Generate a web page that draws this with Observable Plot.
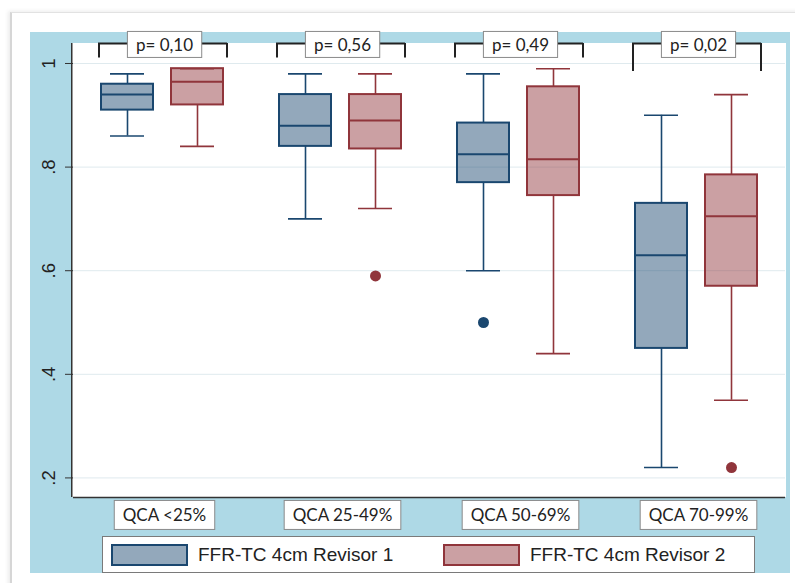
<!DOCTYPE html>
<html>
<head>
<meta charset="utf-8">
<script src="https://cdn.jsdelivr.net/npm/d3@7"></script>
<script src="https://cdn.jsdelivr.net/npm/@observablehq/plot@0.6"></script>
<style>
  html, body { margin: 0; padding: 0; background: #fff; width: 795px; height: 583px; overflow: hidden; }
  #frame { position: absolute; left: 10px; top: 12px; width: 800px; height: 600px;
           border-left: 2px solid #d6d6d6; border-top: 1px solid #e2e2e2;
           box-shadow: -2px -1px 4px rgba(0,0,0,0.08); }
  #panel { position: absolute; left: 30px; top: 32px; width: 760px; height: 541px; background: #aed9e6; }
  #plotbg { position: absolute; left: 41px; top: 11px; width: 715px; height: 454px; background: #fff; }
  #panel svg { position: absolute; left: 0; top: 0; overflow: visible; }
  #legend { position: absolute; left: 102px; top: 536px; width: 653px; height: 37px; box-sizing: border-box;
            background: #fff; border: 1px solid #7a7a7a; font-family: "Liberation Sans", Arial, sans-serif;
            font-size: 19px; color: #222; }
  .item { position: absolute; top: 0; height: 35px; display: flex; align-items: center; }
  .sw { width: 73px; height: 18px; border: 2px solid; margin-right: 10px; }
</style>
</head>
<body>
<div id="frame"></div>
<div id="panel"><div id="plotbg"></div></div>
<div id="legend"></div>
<script>
// ---- data ----
const groups = ["QCA <25%", "QCA 25-49%", "QCA 50-69%", "QCA 70-99%"];
const series = ["FFR-TC 4cm Revisor 1", "FFR-TC 4cm Revisor 2"];

// Revisor 1 box statistics (lower adjacent, q1, median, q3, upper adjacent)
const r1Low  = [0.86, 0.70, 0.60, 0.22];
const r1Q1   = [0.91, 0.84, 0.77, 0.45];
const r1Med  = [0.94, 0.88, 0.825, 0.63];
const r1Q3   = [0.96, 0.94, 0.885, 0.73];
const r1High = [0.98, 0.98, 0.98, 0.90];
// Revisor 2
const r2Low  = [0.84, 0.72, 0.44, 0.35];
const r2Q1   = [0.92, 0.835, 0.745, 0.57];
const r2Med  = [0.965, 0.89, 0.815, 0.705];
const r2Q3   = [0.99, 0.94, 0.955, 0.785];
const r2High = [0.99, 0.98, 0.99, 0.94];

// outliers
const outGroup  = ["QCA 50-69%", "QCA 25-49%", "QCA 70-99%"];
const outSeries = [series[0], series[1], series[1]];
const outValue  = [0.50, 0.59, 0.22];

const pLabels = ["p= 0,10", "p= 0,56", "p= 0,49", "p= 0,02"];
const yTicks = [0.2, 0.4, 0.6, 0.8, 1];
const yTickLabels = ["", ".2", ".4", ".6", ".8", "1"];

// ---- build tables ----
const rows = [];
groups.forEach((g, i) => {
  rows.push({group: g, series: series[0], low: r1Low[i], q1: r1Q1[i], med: r1Med[i], q3: r1Q3[i], high: r1High[i]});
  rows.push({group: g, series: series[1], low: r2Low[i], q1: r2Q1[i], med: r2Med[i], q3: r2Q3[i], high: r2High[i]});
});
const outliers = outValue.map((v, i) => ({group: outGroup[i], series: outSeries[i], value: v}));

// annotation layout (bracket leg ends, in y units)
const yMin = 0.1622, yMax = 1.0386;
const legEnd = [1.0106, 1.0106, 1.0106, 0.9846];
const pRows = groups.map((g, i) => ({group: g, p: pLabels[i], drop: legEnd[i]}));

const navy = "#1a476f", maroon = "#90353b";
const colors = [navy, maroon];
const yFmt = d => yTickLabels[Math.round(d * 5)];

const hasAxisMarks = typeof Plot.axisY === "function";

const marks = [
  Plot.gridY(yTicks, {stroke: "#dfeaee", strokeOpacity: 1, strokeWidth: 1}),
  Plot.ruleY([yMin], {stroke: "#333", strokeWidth: 1.5}),
  // whiskers
  Plot.ruleX(rows, {fx: "group", x: "series", y1: "low", y2: "q1", stroke: "series", strokeWidth: 1.6}),
  Plot.ruleX(rows, {fx: "group", x: "series", y1: "q3", y2: "high", stroke: "series", strokeWidth: 1.6}),
  Plot.tickY(rows, {fx: "group", x: "series", y: "low", stroke: "series", strokeWidth: 1.6, insetLeft: 9, insetRight: 9}),
  Plot.tickY(rows, {fx: "group", x: "series", y: "high", stroke: "series", strokeWidth: 1.6, insetLeft: 9, insetRight: 9}),
  // boxes
  Plot.barY(rows, {fx: "group", x: "series", y1: "q1", y2: "q3", fill: "series", fillOpacity: 0.47, stroke: "series", strokeWidth: 2}),
  Plot.tickY(rows, {fx: "group", x: "series", y: "med", stroke: "series", strokeWidth: 2}),
  // outliers
  Plot.dot(outliers, {fx: "group", x: "series", y: "value", fill: "series", r: 5.5, stroke: null}),
  // p-value brackets
  Plot.ruleX(pRows, {fx: "group", x: () => series[0], y1: () => yMax, y2: "drop", dx: -28.5, stroke: "#222", strokeWidth: 2}),
  Plot.ruleX(pRows, {fx: "group", x: () => series[1], y1: () => yMax, y2: "drop", dx: 29.5, stroke: "#222", strokeWidth: 2}),
  Plot.tickY(pRows, {fx: "group", x: () => series[0], y: () => yMax, insetLeft: -3, stroke: "#222", strokeWidth: 2}),
  Plot.tickY(pRows, {fx: "group", x: () => series[1], y: () => yMax, insetRight: -4, stroke: "#222", strokeWidth: 2}),
  Plot.text(pRows, {fx: "group", text: "p", frameAnchor: "top", lineAnchor: "middle", dx: 2, dy: 2, fontFamily: "Lato", fontSize: 17, fill: "#222"}),
  // category labels
  Plot.text(groups, {fx: d => d, text: d => d, frameAnchor: "bottom", lineAnchor: "middle", dx: 2, dy: 18.5, fontFamily: "Lato", fontSize: 17, fill: "#222"})
];
if (hasAxisMarks) {
  marks.unshift(Plot.axisY(yTicks, {tickRotate: -90, tickSize: 8, tickPadding: 11, tickFormat: yFmt,
    fontSize: 18.5, fontFamily: "'Liberation Sans', Arial, sans-serif", stroke: "#333", fill: "#222"}));
}

const chart = Plot.plot({
  width: 760,
  height: 541,
  marginTop: 11,
  marginBottom: 76,
  marginLeft: 41,
  marginRight: 4,
  style: {fontFamily: "'Liberation Sans', Arial, sans-serif", fontSize: "18.5px", color: "#222", background: "transparent", overflow: "visible"},
  fx: {domain: groups, padding: 0, axis: null, label: null},
  x: {domain: series, paddingInner: 0.2535, paddingOuter: 0.3856, axis: null},
  y: {domain: [yMin, yMax], ticks: yTicks, line: true, tickSize: 8, tickPadding: 11, tickRotate: -90, label: null,
      tickFormat: yFmt},
  color: {domain: series, range: colors},
  marks
});

document.getElementById("panel").appendChild(chart);

// left axis line (drawn along the plot's left edge)
if (hasAxisMarks) {
  d3.select("#plotbg").style("box-shadow", "inset 1.5px 0 0 #333");
}

// white boxes behind the annotation texts
function boxText(labels, padX, h) {
  d3.select(chart).selectAll("text")
    .filter(function() { return labels.includes(this.textContent.trim()); })
    .each(function() {
      const bb = this.getBBox();
      const cy = bb.y + bb.height / 2;
      const r = document.createElementNS("http://www.w3.org/2000/svg", "rect");
      r.setAttribute("x", bb.x - padX);
      r.setAttribute("y", cy - h / 2);
      r.setAttribute("width", bb.width + 2 * padX);
      r.setAttribute("height", h);
      r.setAttribute("fill", "#fff");
      r.setAttribute("stroke", "#8a8a8a");
      r.setAttribute("stroke-width", 1);
      const t = this.getAttribute("transform");
      if (t) r.setAttribute("transform", t);
      this.parentNode.insertBefore(r, this);
    });
}
boxText(pLabels, 8.5, 26);
boxText(groups, 8.5, 29);

// legend
const legend = d3.select("#legend");
const legendLeft = [8, 340];
series.forEach((s, i) => {
  const it = legend.append("div").attr("class", "item").style("left", legendLeft[i] + "px");
  it.append("div").attr("class", "sw")
    .style("border-color", colors[i])
    .style("background", d3.color(colors[i]).copy({opacity: 0.47}).formatRgb());
  it.append("span").text(s);
});
</script>
</body>
</html>
